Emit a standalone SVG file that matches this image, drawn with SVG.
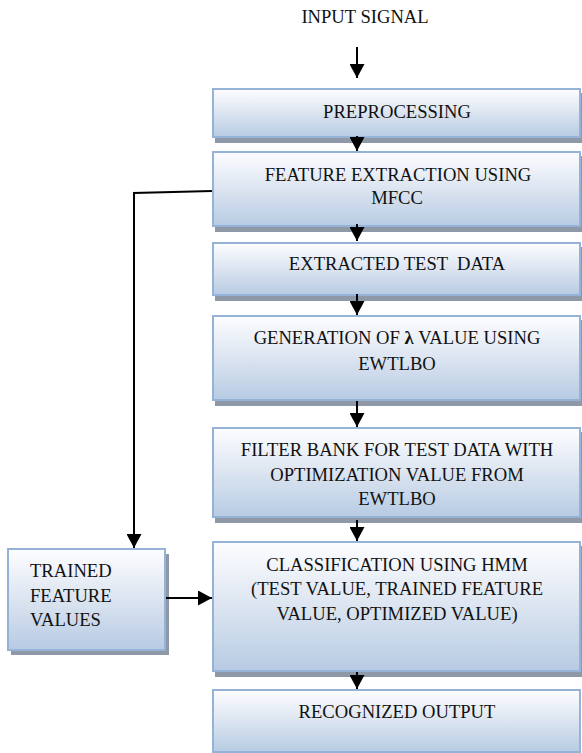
<svg xmlns="http://www.w3.org/2000/svg" width="582" height="753" viewBox="0 0 582 753">
  <defs>
    <linearGradient id="boxFill" x1="0" y1="0" x2="0" y2="1">
      <stop offset="0" stop-color="#fdfdff"/>
      <stop offset="0.45" stop-color="#dfe7f2"/>
      <stop offset="1" stop-color="#b7cbe3"/>
    </linearGradient>
    <marker id="head" viewBox="0 0 14 15" refX="14" refY="7.5" markerWidth="14" markerHeight="15" markerUnits="userSpaceOnUse" orient="auto">
      <path d="M0,0 L14,7.5 L0,15 Z" fill="#000"/>
    </marker>
    <style>
      .box { fill: url(#boxFill); stroke: #95b3d7; stroke-width: 2; }
      .shadow { fill: #8e98a6; }
      .lbl { font-size: 18.6px; fill: #111; text-anchor: middle; }
      .left { text-anchor: start; }
      .conn { fill: none; stroke: #000; stroke-width: 2; }
      .arrow { marker-end: url(#head); }
    </style>
  </defs>

  <rect width="582" height="753" fill="#fff"/>

  <g font-family="'Liberation Serif', 'DejaVu Serif', serif">
  <text class="lbl" x="365" y="23">INPUT SIGNAL</text>

  <g id="preprocessing">
    <rect class="shadow" x="215" y="93" width="370" height="50"/>
    <rect class="box" x="213" y="89" width="367" height="48"/>
    <text class="lbl" x="397" y="118">PREPROCESSING</text>
  </g>

  <g id="feature-extraction">
    <rect class="shadow" x="215" y="156" width="370" height="76"/>
    <rect class="box" x="213" y="152" width="367" height="74"/>
    <text class="lbl" x="398" y="181">FEATURE EXTRACTION USING</text>
    <text class="lbl" x="397" y="204">MFCC</text>
  </g>

  <g id="extracted-test-data">
    <rect class="shadow" x="215" y="247" width="370" height="54"/>
    <rect class="box" x="213" y="243" width="367" height="52"/>
    <text class="lbl" x="397" y="270" style="white-space:pre">EXTRACTED TEST  DATA</text>
  </g>

  <g id="lambda-generation">
    <rect class="shadow" x="215" y="320" width="370" height="86"/>
    <rect class="box" x="213" y="316" width="367" height="84"/>
    <text class="lbl" x="397" y="344">GENERATION OF <tspan font-weight="bold">λ</tspan> VALUE USING</text>
    <text class="lbl" x="397" y="370">EWTLBO</text>
  </g>

  <g id="filter-bank">
    <rect class="shadow" x="215" y="432" width="370" height="91"/>
    <rect class="box" x="213" y="428" width="367" height="89"/>
    <text class="lbl" x="397" y="456">FILTER BANK FOR TEST DATA WITH</text>
    <text class="lbl" x="397" y="481">OPTIMIZATION VALUE FROM</text>
    <text class="lbl" x="397" y="505">EWTLBO</text>
  </g>

  <g id="classification">
    <rect class="shadow" x="215" y="546" width="370" height="131"/>
    <rect class="box" x="213" y="542" width="367" height="129"/>
    <text class="lbl" x="397" y="571">CLASSIFICATION USING HMM</text>
    <text class="lbl" x="397" y="595">(TEST VALUE, TRAINED FEATURE</text>
    <text class="lbl" x="397" y="620">VALUE, OPTIMIZED VALUE)</text>
  </g>

  <g id="recognized-output">
    <rect class="box" x="213" y="690" width="367" height="62"/>
    <text class="lbl" x="397" y="718">RECOGNIZED OUTPUT</text>
  </g>

  <g id="trained-features">
    <rect class="shadow" x="11" y="554" width="158" height="101"/>
    <rect class="box" x="8" y="549" width="157" height="101"/>
    <text class="lbl left" x="30" y="577">TRAINED</text>
    <text class="lbl left" x="30" y="602">FEATURE</text>
    <text class="lbl left" x="30" y="626">VALUES</text>
  </g>
  </g>

  <g id="connectors">
    <line class="conn arrow" x1="357" y1="47" x2="357" y2="78"/>
    <line class="conn arrow" x1="357" y1="136" x2="357" y2="151"/>
    <line class="conn arrow" x1="357" y1="224" x2="357" y2="241"/>
    <line class="conn arrow" x1="357" y1="294" x2="357" y2="315"/>
    <line class="conn arrow" x1="357" y1="401" x2="357" y2="427"/>
    <line class="conn arrow" x1="357" y1="520" x2="357" y2="541"/>
    <line class="conn arrow" x1="357" y1="672" x2="357" y2="689"/>
    <polyline class="conn arrow" points="212,191 134,193 134,548"/>
    <line class="conn arrow" x1="166" y1="598" x2="212" y2="598"/>
  </g>
</svg>
